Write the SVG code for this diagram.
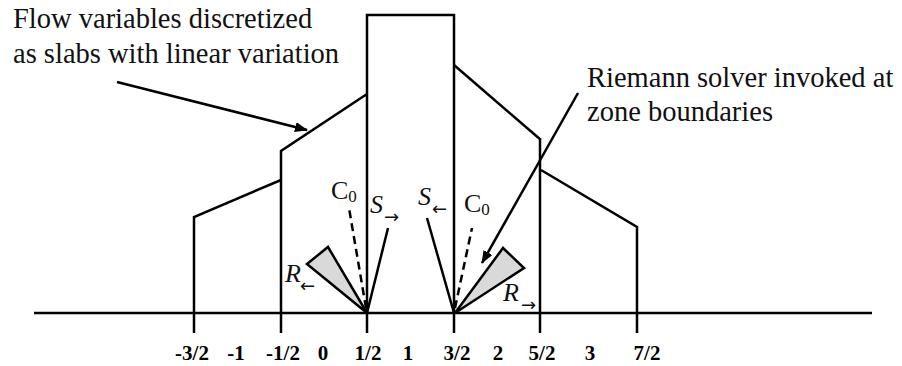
<svg xmlns="http://www.w3.org/2000/svg" width="902" height="366" viewBox="0 0 902 366">
<style>
.ln{fill:none;stroke:#000;stroke-width:2.5;stroke-linejoin:miter}
.ds{fill:none;stroke:#000;stroke-width:2.5;stroke-dasharray:8 5}
.fan{fill:#d9d9d9;stroke:#000;stroke-width:2.5;stroke-linejoin:miter}
.big{font-family:"Liberation Serif","Times New Roman",serif;font-size:28.5px;fill:#111}
.tk{font-family:"Liberation Serif","Times New Roman",serif;font-size:21px;font-weight:bold;fill:#000;text-anchor:middle}
.sym{font-family:"Liberation Serif","Times New Roman",serif;font-size:26px;fill:#111}
.it{font-style:italic}
.zero{font-family:"Liberation Serif","Times New Roman",serif;font-size:17px}
.sub{font-family:"DejaVu Sans","Noto Sans",sans-serif;font-size:18px;fill:#111}
</style>
<defs>
<marker id="ah" markerWidth="13" markerHeight="10" refX="12" refY="5" orient="auto" markerUnits="userSpaceOnUse">
<path d="M0,0 L13,5 L0,10 Z" fill="#000"/>
</marker>
</defs>
<rect width="902" height="366" fill="#fff"/>
<g id="axis">
<line class="ln" x1="34" y1="313" x2="872" y2="313"/>
</g>
<g id="profile">
<path class="ln" d="M194,333 V217 L281,180"/>
<path class="ln" d="M281,333 V151 L367,94"/>
<path class="ln" d="M367,333 V15 H454 V333"/>
<path class="ln" d="M454,65 L541,140"/>
<path class="ln" d="M540,333 V140"/>
<path class="ln" d="M541,170 L637,227 V333"/>
</g>
<g id="fan-left">
<path class="fan" d="M367,313 L307,264 L328,247 Z"/>
<line class="ds" x1="366" y1="308" x2="349" y2="208"/>
<line class="ln" x1="367" y1="313" x2="388" y2="228"/>
<text class="sym" x="331" y="199">C<tspan class="zero" dy="3">0</tspan></text>
<text class="sym it" x="370" y="213">S</text>
<text class="sub" x="384" y="223">→</text>
<text class="sym it" x="285" y="282">R</text>
<text class="sub" x="300" y="292">←</text>
</g>
<g id="fan-right">
<path class="fan" d="M455,313 L503,248 L524,268 Z"/>
<line class="ds" x1="455" y1="308" x2="472" y2="228"/>
<line class="ln" x1="454" y1="313" x2="427" y2="218"/>
<text class="sym it" x="418" y="205">S</text>
<text class="sub" x="432" y="215">←</text>
<text class="sym" x="464" y="212">C<tspan class="zero" dy="3">0</tspan></text>
<text class="sym it" x="503" y="301">R</text>
<text class="sub" x="521" y="311">→</text>
</g>
<g id="connectors">
<line class="ln" x1="117" y1="82" x2="307" y2="130" marker-end="url(#ah)"/>
<line class="ln" x1="578" y1="93" x2="482" y2="263" marker-end="url(#ah)"/>
</g>
<g id="label-slabs">
<text class="big" x="13" y="28">Flow variables discretized</text>
<text class="big" x="13" y="63">as slabs with linear variation</text>
</g>
<g id="label-riemann">
<text class="big" x="587" y="87">Riemann solver invoked at</text>
<text class="big" x="587" y="121">zone boundaries</text>
</g>
<g id="ticks">
<text class="tk" x="192" y="360">-3/2</text>
<text class="tk" x="236" y="360">-1</text>
<text class="tk" x="283" y="360">-1/2</text>
<text class="tk" x="323" y="360">0</text>
<text class="tk" x="368" y="360">1/2</text>
<text class="tk" x="408" y="360">1</text>
<text class="tk" x="457" y="360">3/2</text>
<text class="tk" x="498" y="360">2</text>
<text class="tk" x="542" y="360">5/2</text>
<text class="tk" x="590" y="360">3</text>
<text class="tk" x="647" y="360">7/2</text>
</g>
</svg>
